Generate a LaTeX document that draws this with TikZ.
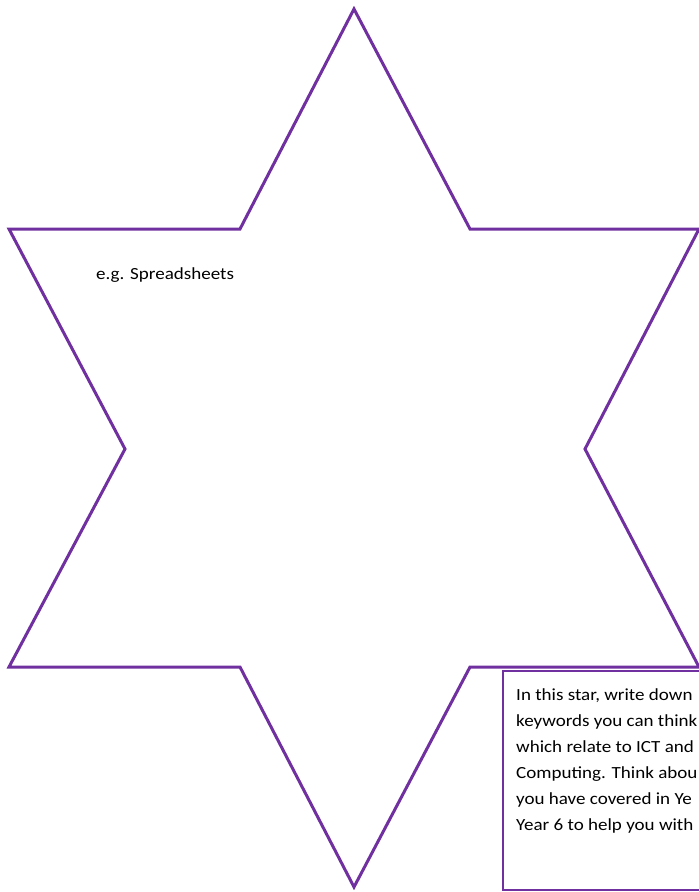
\documentclass[tikz,border=0pt]{standalone}
\usepackage{fontspec}
\setmainfont{Carlito}[FakeStretch=1.12]
\usepackage{xcolor}
\usetikzlibrary{positioning}
\definecolor{starpurple}{HTML}{7030A0}

\begin{document}
\begin{tikzpicture}[x=1pt, y=-1pt]
        \tikzstyle{starline} = [draw=starpurple, line width=3pt, line join=miter]
        \tikzstyle{notebox} = [draw=starpurple, line width=2pt, fill=white]
        \tikzstyle{notetext} = [anchor=north west, align=left, inner sep=0pt, font=\fontsize{17}{26}\selectfont]

        \clip (0,0) rectangle (699,892);

        % star outline
        \coordinate (top) at (354,9);
        \coordinate (bottom) at (354,887);
        \draw [starline] (top) -- (470,229) -- (699,229) -- (585,449) -- (699,667) -- (470,667)
            -- (bottom) -- (240,667) -- (9,667) -- (125,449) -- (9,229) -- (240,229) -- cycle;

        \node (example) [anchor=base west, inner sep=0pt, font=\fontsize{17}{20}\selectfont] at (96,279) {e.g. Spreadsheets};

        % instruction box in the corner
        \draw [notebox] (503,671) rectangle (712,890);
        \node (instructions) [notetext] at (516,688) {In this star, write down\\
            keywords you can think\\
            which relate to ICT and\\
            Computing. Think abou\\
            you have covered in Ye\\
            Year 6 to help you with};
    \end{tikzpicture}
\end{document}
